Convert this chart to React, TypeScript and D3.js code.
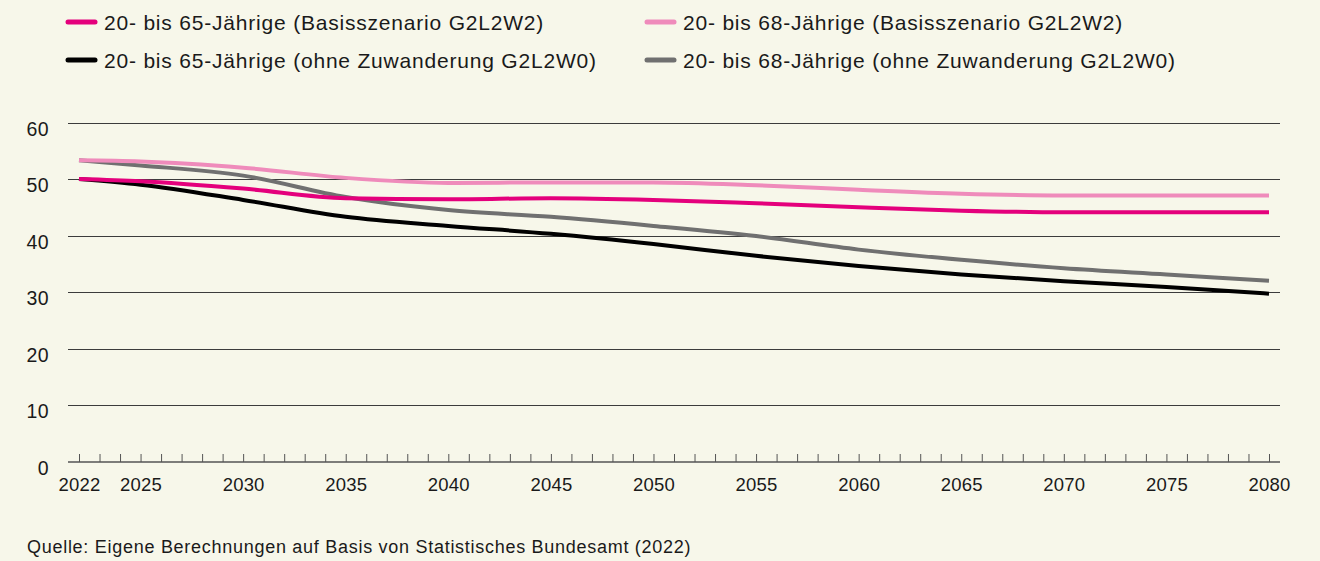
import React, { useEffect, useRef } from "react";
import * as d3 from "d3";

// Anteil der Bevölkerung (%) – Stützjahre
const years = [2022, 2025, 2030, 2035, 2040, 2045, 2050, 2055, 2060, 2065, 2070, 2075, 2080];
const basis65 = [50.0, 49.6, 48.3, 46.6, 46.4, 46.6, 46.3, 45.7, 45.0, 44.4, 44.1, 44.1, 44.1];
const basis68 = [53.3, 53.1, 52.0, 50.2, 49.3, 49.4, 49.4, 48.9, 48.1, 47.4, 47.1, 47.1, 47.1];
const ohne65 = [50.0, 49.0, 46.3, 43.3, 41.7, 40.3, 38.5, 36.4, 34.6, 33.1, 31.9, 30.9, 29.7];
const ohne68 = [53.3, 52.4, 50.6, 46.8, 44.5, 43.3, 41.7, 39.9, 37.5, 35.7, 34.2, 33.1, 32.0];

const seriesNames = [
  "20- bis 65-Jährige (Basisszenario G2L2W2)",
  "20- bis 68-Jährige (Basisszenario G2L2W2)",
  "20- bis 65-Jährige (ohne Zuwanderung G2L2W0)",
  "20- bis 68-Jährige (ohne Zuwanderung G2L2W0)",
];
const seriesColors = ["#e4007c", "#ef8bbb", "#000000", "#707070"];
const seriesValues = [basis65, basis68, ohne65, ohne68];

const yTicks = [0, 10, 20, 30, 40, 50, 60];
const xLabels = [2022, 2025, 2030, 2035, 2040, 2045, 2050, 2055, 2060, 2065, 2070, 2075, 2080];
const sourceText = "Quelle: Eigene Berechnungen auf Basis von Statistisches Bundesamt (2022)";

const FONT = "'Liberation Sans', Arial, Helvetica, sans-serif";

const App = () => {
  const ref = useRef<SVGSVGElement>(null);

  useEffect(() => {
    const svg = d3.select(ref.current);
    svg.selectAll("*").remove();

    const width = 1320,
      height = 561;
    const plot = { left: 68, right: 1280 };

    svg.append("rect").attr("width", width).attr("height", height).attr("fill", "#f7f7ea");

    const x = d3.scaleLinear().domain([2022, 2080]).range([79, 1269]);
    const y = d3.scaleLinear().domain([0, 60]).range([461.5, 122.5]);

    // gridlines
    svg
      .append("g")
      .selectAll("line")
      .data(yTicks.filter((d) => d > 0))
      .join("line")
      .attr("x1", plot.left)
      .attr("x2", plot.right)
      .attr("y1", (d) => Math.round(y(d)) + 0.5)
      .attr("y2", (d) => Math.round(y(d)) + 0.5)
      .attr("stroke", "#3c3c3c")
      .attr("stroke-width", 1);

    // y labels
    svg
      .append("g")
      .selectAll("text")
      .data(yTicks)
      .join("text")
      .attr("x", 49)
      .attr("y", (d) => y(d) + 13)
      .attr("text-anchor", "end")
      .attr("font-family", FONT)
      .attr("font-size", 19.5)
      .attr("letter-spacing", 0.4)
      .attr("fill", "#1a1a1a")
      .text((d) => d);

    // x axis
    const xAxis = svg
      .append("g")
      .attr("transform", `translate(0,${Math.round(y(0))})`)
      .call(
        d3
          .axisBottom(x)
          .tickValues(d3.range(2022, 2081))
          .tickSize(-8)
          .tickPadding(16)
          .tickFormat((d) => (xLabels.includes(+d) ? String(d) : ""))
      );
    xAxis.select(".domain").remove();
    xAxis.selectAll(".tick line").attr("stroke", "#555").attr("stroke-width", 1);
    xAxis
      .selectAll(".tick text")
      .attr("font-family", FONT)
      .attr("font-size", 18.5)
      .attr("letter-spacing", 0.2)
      .attr("fill", "#1a1a1a");
    xAxis
      .append("line")
      .attr("x1", plot.left)
      .attr("x2", plot.right)
      .attr("y1", 0)
      .attr("y2", 0)
      .attr("stroke", "#555")
      .attr("stroke-width", 1.6);

    // lines
    const line = d3
      .line<number>()
      .x((_, i) => x(years[i]))
      .y((d) => y(d))
      .curve(d3.curveMonotoneX);

    const drawOrder = [3, 2, 1, 0];
    svg
      .append("g")
      .selectAll("path")
      .data(drawOrder)
      .join("path")
      .attr("d", (k) => line(seriesValues[k]))
      .attr("fill", "none")
      .attr("stroke", (k) => seriesColors[k])
      .attr("stroke-width", 4);

    // legend
    const legendPos = [
      { x: 66, y: 22 },
      { x: 645, y: 22 },
      { x: 66, y: 60 },
      { x: 645, y: 60 },
    ];
    const legend = svg
      .append("g")
      .selectAll("g")
      .data(seriesNames)
      .join("g")
      .attr("transform", (_, i) => `translate(${legendPos[i].x},${legendPos[i].y})`);
    legend
      .append("line")
      .attr("x1", 2)
      .attr("x2", 29)
      .attr("stroke", (_, i) => seriesColors[i])
      .attr("stroke-width", 5)
      .attr("stroke-linecap", "round");
    legend
      .append("text")
      .attr("x", 38)
      .attr("y", 7.5)
      .attr("font-family", FONT)
      .attr("font-size", 21)
      .attr("letter-spacing", 0.8)
      .attr("fill", "#1a1a1a")
      .text((d) => d);

    svg
      .append("text")
      .attr("x", 27)
      .attr("y", 553)
      .attr("font-family", FONT)
      .attr("font-size", 18)
      .attr("letter-spacing", 0.72)
      .attr("fill", "#1a1a1a")
      .text(sourceText);
  }, []);

  return (
    <svg
      ref={ref}
      width={1320}
      height={561}
      style={{ position: "absolute", left: 0, top: 0 }}
    />
  );
};

export default App;
